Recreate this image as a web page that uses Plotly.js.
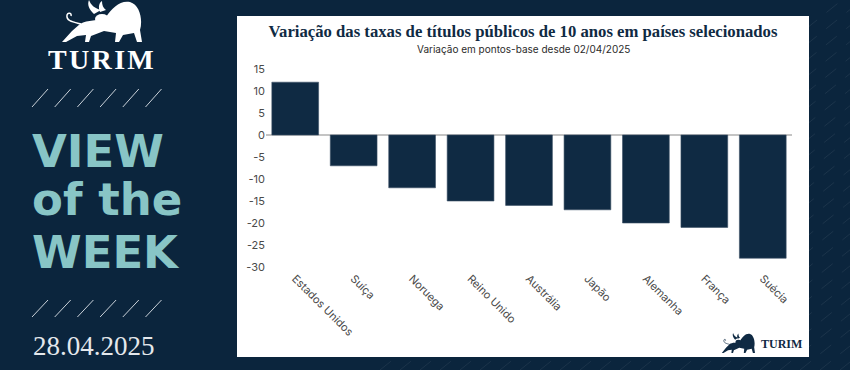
<!DOCTYPE html>
<html>
<head>
<meta charset="utf-8">
<script src="https://cdn.plot.ly/plotly-3.0.1.min.js"></script>
<style>
html,body{margin:0;padding:0;background:#0b253d;}
#chart{width:850px;height:370px;}
</style>
</head>
<body>
<div id="chart"></div>
<script>
// ---- data ----
const categories = ['Estados Unidos', 'Suíça', 'Noruega', 'Reino Unido', 'Austrália', 'Japão', 'Alemanha', 'França', 'Suécia'];
const values = [12, -7, -12, -15, -16, -17, -20, -21, -28];
const yTickVals = [15, 10, 5, 0, -5, -10, -15, -20, -25, -30];
const chartTitle = 'Variação das taxas de títulos públicos de 10 anos em países selecionados';
const chartSubtitle = 'Variação em pontos-base desde 02/04/2025';
const brandName = 'TURIM';
const viewLines = ['VIEW', 'of the', 'WEEK'];
const dateText = '28.04.2025';

// ---- layout geometry (pixels -> paper) ----
const W = 850, H = 370;
const L = 266, R = 792, T = 67, B = 269;
const PW = R - L, PH = B - T;
const px = x => (x - L) / PW;
const py = y => (B - y) / PH;

const NAVY = '#0b253d';
const BAR = '#0f2a43';
const TEAL = '#88c5c6';

function bullSvg(fill) {
  const s = '<svg xmlns="http://www.w3.org/2000/svg" viewBox="0 0 82 42">' +
    '<g fill="' + fill + '">' +
    '<path d="M2 42 L12 31 L20 24 C28 19 38 22 46 17 C52 8 60 0 70 2 C80 5 83 20 80 30 L82 42 L77 42 L74 33 L63 35 L59 42 L55 42 L56 33 L44 31 L31 36 L29 42 L25 42 L26 35 L17 36 L6 42 Z"/>' +
    '<path d="M34 14 C29 9 27 5 29 0 C31 5 34 8 41 10 Z"/>' +
    '<path d="M40 12 C38 7 39 3 42 1 C42 5 43 8 46 10 Z"/>' +
    '<ellipse cx="42" cy="19" rx="7" ry="5"/>' +
    '</g>' +
    '<path d="M21 24 C13 22 6 21 7 15 C8 12 12 13 11 16" fill="none" stroke="' + fill + '" stroke-width="1.5"/>' +
    '</svg>';
  return 'data:image/svg+xml;utf8,' + encodeURIComponent(s);
}

// ---- shapes ----
const shapes = [];
// faint diagonal background pattern
for (let b = 380; b <= 860; b += 20) {
  shapes.push({
    type: 'line', xref: 'paper', yref: 'paper', layer: 'below',
    x0: px(b), y0: py(H), x1: px(b + 462), y1: py(0),
    line: {color: 'rgba(255,255,255,0.07)', width: 1, dash: '14px,12px'}
  });
}
// white chart panel
shapes.push({
  type: 'rect', xref: 'paper', yref: 'paper', layer: 'below',
  x0: px(237), x1: px(809), y0: py(357), y1: py(16),
  fillcolor: '#ffffff', line: {width: 0}
});
// slashes on left panel
[[89, 107], [300, 317]].forEach(([yt, yb]) => {
  for (let i = 0; i < 6; i++) {
    const x0 = 32 + i * 22.7;
    shapes.push({
      type: 'line', xref: 'paper', yref: 'paper',
      x0: px(x0), y0: py(yb), x1: px(x0 + 16), y1: py(yt),
      line: {color: 'rgba(235,240,245,0.85)', width: 1}
    });
  }
});

const viewFont = {family: 'DejaVu Sans, sans-serif', size: 45, weight: 'bold', color: TEAL};

// ---- annotations ----
const annotations = [
  {text: chartSubtitle, xref: 'paper', yref: 'paper', x: px(523), y: py(49),
   xanchor: 'center', yanchor: 'middle', showarrow: false,
   font: {family: 'Inter, Lato, sans-serif', size: 10, color: '#2b2b2b'}},
  {text: '<b>' + brandName.split('').join('\u200A') + '</b>', xref: 'paper', yref: 'paper', x: px(101), y: py(60),
   xanchor: 'center', yanchor: 'middle', showarrow: false,
   font: {family: 'Liberation Serif, serif', size: 28, color: '#ffffff'}},
  {text: viewLines[0], xref: 'paper', yref: 'paper', x: px(30), y: py(151),
   xanchor: 'left', yanchor: 'middle', showarrow: false, font: viewFont},
  {text: viewLines[1], xref: 'paper', yref: 'paper', x: px(30), y: py(200),
   xanchor: 'left', yanchor: 'middle', showarrow: false, font: viewFont},
  {text: viewLines[2], xref: 'paper', yref: 'paper', x: px(30), y: py(252),
   xanchor: 'left', yanchor: 'middle', showarrow: false, font: viewFont},
  {text: dateText, xref: 'paper', yref: 'paper', x: px(31), y: py(346),
   xanchor: 'left', yanchor: 'middle', showarrow: false,
   font: {family: 'Liberation Serif, serif', size: 27, color: '#e4e8ec'}},
  {text: '<b>' + brandName + '</b>', xref: 'paper', yref: 'paper', x: px(804), y: py(344),
   xanchor: 'right', yanchor: 'middle', showarrow: false,
   font: {family: 'Liberation Serif, serif', size: 12, color: BAR}}
];

// ---- images (logos) ----
const images = [
  {source: bullSvg('#ffffff'), xref: 'paper', yref: 'paper', x: px(60), y: py(0),
   sizex: 82 / PW, sizey: 42 / PH, sizing: 'stretch', xanchor: 'left', yanchor: 'top', layer: 'above'},
  {source: bullSvg(BAR), xref: 'paper', yref: 'paper', x: px(721), y: py(333),
   sizex: 34 / PW, sizey: 20 / PH, sizing: 'stretch', xanchor: 'left', yanchor: 'top', layer: 'above'}
];

const trace = {
  type: 'bar',
  x: categories,
  y: values,
  marker: {color: BAR, line: {color: '#3d5166', width: 0.6}},
  hoverinfo: 'x+y'
};

const layout = {
  width: W, height: H,
  margin: {l: L, r: W - R, t: T, b: H - B, pad: 0},
  paper_bgcolor: NAVY,
  plot_bgcolor: 'rgba(0,0,0,0)',
  showlegend: false,
  bargap: 0.2,
  title: {
    text: '<b>' + chartTitle + '</b>',
    xref: 'container', yref: 'container',
    x: 523 / W, xanchor: 'center', y: 1 - 31 / H, yanchor: 'middle',
    font: {family: 'Liberation Serif, serif', size: 16.7, color: '#0f2a43'}
  },
  xaxis: {
    type: 'category',
    tickangle: 45,
    showgrid: false, showline: false, zeroline: false, ticks: '',
    tickfont: {family: 'Inter, Lato, sans-serif', size: 11, color: '#4a4a4a'},
    automargin: false
  },
  yaxis: {
    range: [-30.45, 15.45],
    tickvals: yTickVals,
    ticktext: yTickVals.map(String),
    showgrid: false, showline: false,
    zeroline: true, zerolinecolor: '#c4c4c4', zerolinewidth: 1.5,
    ticks: '',
    tickfont: {family: 'Inter, Lato, sans-serif', size: 11, color: '#4a4a4a'},
    automargin: false
  },
  shapes: shapes,
  annotations: annotations,
  images: images
};

Plotly.newPlot('chart', [trace], layout, {displayModeBar: false, staticPlot: true});
</script>
</body>
</html>
